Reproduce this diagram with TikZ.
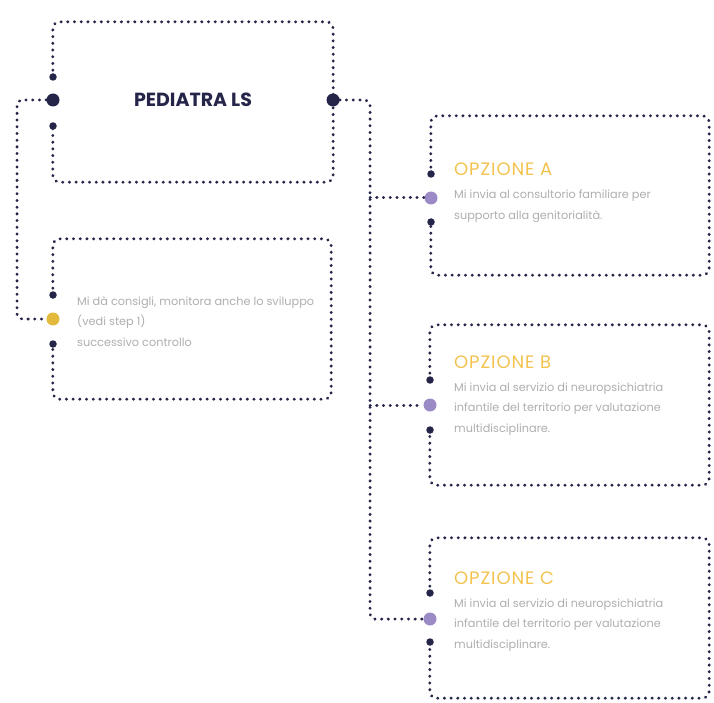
\documentclass[tikz,border=0pt]{standalone}
\usepackage{fontspec}
\setmainfont{Poppins}
\newfontfamily\ttlfont[LetterSpace=5]{Poppins}
\definecolor{navy}{HTML}{25254A}
\definecolor{gold}{HTML}{E2B93B}
\definecolor{lilac}{HTML}{9C8AC6}
\definecolor{txt}{HTML}{AEAEAE}
\definecolor{ttl}{HTML}{F3C24F}
\begin{document}
\begin{tikzpicture}[x=1pt,y=-1pt,
  edge/.style={draw=navy, line width=3pt, line cap=round, dash pattern=on 0.3pt off 6.4pt},
  cardline/.style={edge, rounded corners=7pt},
  frame/.style={draw=none, inner sep=0pt},
  bigdot/.style={circle, fill=navy, minimum size=13pt, inner sep=0pt},
  smalldot/.style={circle, fill=navy, minimum size=7.5pt, inner sep=0pt},
  body/.style={font=\fontsize{11.3}{20.5}\selectfont, text=txt, align=left, anchor=west, inner sep=0pt},
  ttlstyle/.style={font=\ttlfont\fontsize{18}{20}\selectfont, text=ttl, anchor=west, inner sep=0pt},
  headstyle/.style={font=\bfseries\fontsize{19}{22}\selectfont, text=navy, inner sep=0pt}
]
\useasboundingbox (0,0) rectangle (714,703);

% frames
\node[frame, minimum width=280pt, minimum height=160pt] (b1) at (193,102) {};
\node[frame, minimum width=278pt, minimum height=160pt] (b2) at (192,319) {};
\node[frame, minimum width=278pt, minimum height=159pt] (bA) at (570,195.5) {};
\node[frame, minimum width=279pt, minimum height=160pt] (bB) at (569.5,405) {};
\node[frame, minimum width=279pt, minimum height=160pt] (bC) at (569.5,618) {};

% card borders (behind the dots)
\foreach \b/\yu/\yd in {b1/77/126,b2/295/344,bA/174/222,bB/380/430,bC/593/642}{
  \draw[cardline] (\b.west |- 0,\yu) |- (\b.north east) |- (\b.south west) -- (\b.west |- 0,\yd);
}

% dots
\node[smalldot] (b1u) at (53,77) {};
\node[bigdot] (b1L) at (53,100) {};
\node[smalldot] (b1d) at (53,126) {};
\node[bigdot] (b1R) at (333,100) {};

\node[smalldot] (b2u) at (53,295) {};
\node[bigdot, fill=gold] (b2L) at (53,319) {};
\node[smalldot] (b2d) at (53,344) {};

\node[smalldot] (bAu) at (431,174) {};
\node[bigdot, fill=lilac] (bAL) at (431,198) {};
\node[smalldot] (bAd) at (431,222) {};

\node[smalldot] (bBu) at (430,380) {};
\node[bigdot, fill=lilac] (bBL) at (430,405) {};
\node[smalldot] (bBd) at (430,430) {};

\node[smalldot] (bCu) at (430,593) {};
\node[bigdot, fill=lilac] (bCL) at (430,619) {};
\node[smalldot] (bCd) at (430,642) {};

% texts
\node[headstyle] (h1) at (193,100) {PEDIATRA LS};
\node[body] (t2) at (77,321.5) {Mi dà consigli, monitora anche lo sviluppo\\(vedi step 1)\\successivo controllo};
\node[ttlstyle] (tA) at (454,169) {OPZIONE A};
\node[body] (xA) at (454,206) {Mi invia al consultorio familiare per\\supporto alla genitorialità.};
\node[ttlstyle] (tB) at (454,362) {OPZIONE B};
\node[body] (xB) at (454,409) {Mi invia al servizio di neuropsichiatria\\infantile del territorio per valutazione\\multidisciplinare.};
\node[ttlstyle] (tC) at (454,578) {OPZIONE C};
\node[body] (xC) at (454,625) {Mi invia al servizio di neuropsichiatria\\infantile del territorio per valutazione\\multidisciplinare.};

% connectors
\coordinate (lx) at (17,0);
\coordinate (rx) at (370,0);
\draw[edge, rounded corners=5pt] (b1L.west) -- (b1L.west -| lx) |- (b2L.west);
\draw[edge, rounded corners=5pt] (b1R.east) -- (b1R.east -| rx) |- (bCL.west);
\draw[edge] (bAL.west -| rx) -- (bAL.west);
\draw[edge] (bBL.west -| rx) -- (bBL.west);
\end{tikzpicture}
\end{document}
